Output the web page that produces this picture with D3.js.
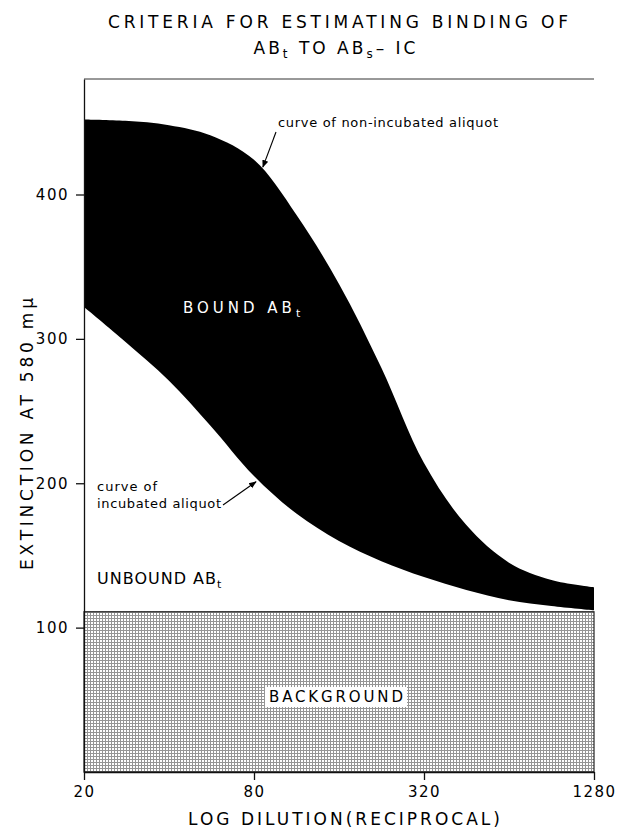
<!DOCTYPE html>
<html>
<head>
<meta charset="utf-8">
<script src="https://cdn.jsdelivr.net/npm/d3@7"></script>
<style>
  body { margin: 0; background: #fff; }
  text { font-family: "DejaVu Sans", sans-serif; fill: #000; }
</style>
</head>
<body>
<div id="main"></div>
<script>
// dilution grid (reciprocal), half-doubling steps
const dilutions = [20, 28, 40, 56, 80, 113, 160, 226, 320, 452, 640, 905, 1280];
// extinction of the non-incubated aliquot (upper curve)
const nonIncubated = [452, 451, 448, 441, 424, 386, 338, 280, 214, 171, 145, 133, 128];
// extinction of the incubated aliquot (lower curve)
const incubated = [322, 298, 271, 240, 205, 179, 160, 146, 135, 126, 119, 115, 112];
const backgroundLevel = 111;
const xTicks = [20, 80, 320, 1280];
const yTicks = [100, 200, 300, 400];

const ctx = {
    w: 621,
    h: 832,
    left: 84,
    right: 594,
    top: 79,
    bottom: 772,
};

const svg = d3.select("#main").append("svg")
    .attr("width", ctx.w)
    .attr("height", ctx.h);

const x = d3.scaleLog().domain([20, 1280]).range([ctx.left, ctx.right]);
const y = d3.scaleLinear().domain([0, 480]).range([ctx.bottom, ctx.top]);

const defs = svg.append("defs");
// stippled grey for the background band
const pat = defs.append("pattern")
    .attr("id", "stipple")
    .attr("patternUnits", "userSpaceOnUse")
    .attr("width", 3).attr("height", 3);
pat.append("rect").attr("width", 3).attr("height", 3).attr("fill", "#fff");
pat.append("rect").attr("width", 3).attr("height", 1).attr("fill", "#959595");
pat.append("rect").attr("width", 1).attr("height", 3).attr("fill", "#959595");

defs.append("marker")
    .attr("id", "arrow")
    .attr("viewBox", "0 0 10 10")
    .attr("refX", 9).attr("refY", 5)
    .attr("markerWidth", 7).attr("markerHeight", 7)
    .attr("orient", "auto")
    .append("path")
    .attr("d", "M0,1 L10,5 L0,9 z")
    .attr("fill", "#000");

const data = dilutions.map((d, i) => ({ d: d, up: nonIncubated[i], lo: incubated[i] }));

// background band
svg.append("rect")
    .attr("x", x(20))
    .attr("y", y(backgroundLevel))
    .attr("width", x(1280) - x(20))
    .attr("height", y(0) - y(backgroundLevel))
    .attr("fill", "url(#stipple)")
    .attr("stroke", "#222")
    .attr("stroke-width", 1.2);

// bound region between the two curves
const area = d3.area()
    .x(d => x(d.d))
    .y0(d => y(d.lo))
    .y1(d => y(d.up))
    .curve(d3.curveCatmullRom.alpha(0.5));
svg.append("path")
    .datum(data)
    .attr("d", area)
    .attr("fill", "#000");

// top frame line
svg.append("line")
    .attr("x1", ctx.left).attr("x2", ctx.right)
    .attr("y1", ctx.top).attr("y2", ctx.top)
    .attr("stroke", "#333").attr("stroke-width", 1);

// axes
const yAxis = svg.append("g")
    .attr("transform", `translate(${ctx.left},0)`)
    .call(d3.axisLeft(y).tickValues(yTicks).tickSize(8).tickSizeOuter(0).tickPadding(8));
const xAxis = svg.append("g")
    .attr("transform", `translate(0,${ctx.bottom})`)
    .call(d3.axisBottom(x).tickValues(xTicks).tickFormat(d3.format("d"))
        .tickSize(8).tickSizeOuter(0).tickPadding(6));
[yAxis, xAxis].forEach(g => {
    g.selectAll("text").attr("font-size", 15).attr("letter-spacing", 1.5)
        .attr("font-family", "DejaVu Sans");
    g.selectAll("line, path").attr("stroke", "#111").attr("stroke-width", 1.3);
});
yAxis.selectAll(".tick text").attr("dx", 1);

// titles
svg.append("text")
    .attr("x", 108).attr("y", 28)
    .attr("font-size", 17)
    .attr("textLength", 460).attr("lengthAdjust", "spacing")
    .text("CRITERIA FOR ESTIMATING BINDING OF");

const t2 = svg.append("text")
    .attr("x", 336).attr("y", 54)
    .attr("text-anchor", "middle")
    .attr("font-size", 17)
    .attr("letter-spacing", 3);
t2.append("tspan").text("AB");
t2.append("tspan").attr("font-size", 12).attr("dy", 4).text("t");
t2.append("tspan").attr("dy", -4).text(" TO  AB");
t2.append("tspan").attr("font-size", 12).attr("dy", 4).text("s");
t2.append("tspan").attr("dy", -4).text("– IC");

svg.append("text")
    .attr("transform", "translate(33,570) rotate(-90)")
    .attr("font-size", 17)
    .attr("textLength", 272).attr("lengthAdjust", "spacing")
    .text("EXTINCTION AT 580 mμ");

svg.append("text")
    .attr("x", 188).attr("y", 825)
    .attr("font-size", 17)
    .attr("textLength", 312).attr("lengthAdjust", "spacing")
    .text("LOG DILUTION(RECIPROCAL)");

// region labels
const bound = svg.append("text")
    .attr("x", 183).attr("y", 313)
    .attr("font-size", 15)
    .attr("letter-spacing", 4)
    .style("fill", "#fff");
bound.append("tspan").text("BOUND  AB");
bound.append("tspan").attr("font-size", 11).attr("dy", 4).text("t");

const unbound = svg.append("text")
    .attr("x", 97).attr("y", 584)
    .attr("font-size", 16)
    .attr("letter-spacing", 1);
unbound.append("tspan").text("UNBOUND  AB");
unbound.append("tspan").attr("font-size", 11).attr("dy", 4).text("t");

// background label on a white patch
const bgText = svg.append("text")
    .attr("x", 269).attr("y", 702)
    .attr("font-size", 15)
    .attr("textLength", 134).attr("lengthAdjust", "spacing")
    .text("BACKGROUND");
const bb = bgText.node().getBBox();
svg.insert("rect", () => bgText.node())
    .attr("x", bb.x - 4).attr("y", bb.y - 1)
    .attr("width", bb.width + 8).attr("height", bb.height + 2)
    .attr("fill", "#fff");

// annotations
svg.append("text")
    .attr("x", 278).attr("y", 127)
    .attr("font-size", 13)
    .attr("textLength", 220).attr("lengthAdjust", "spacing")
    .text("curve of non-incubated aliquot");
svg.append("line")
    .attr("x1", 276).attr("y1", 132)
    .attr("x2", x(86)).attr("y2", y(419))
    .attr("stroke", "#000").attr("stroke-width", 1.1)
    .attr("marker-end", "url(#arrow)");

svg.append("text")
    .attr("x", 97).attr("y", 491)
    .attr("font-size", 13)
    .attr("letter-spacing", 1)
    .text("curve of");
svg.append("text")
    .attr("x", 97).attr("y", 508)
    .attr("font-size", 13)
    .attr("textLength", 124).attr("lengthAdjust", "spacing")
    .text("incubated aliquot");
svg.append("line")
    .attr("x1", 223).attr("y1", 505)
    .attr("x2", x(80) + 2).attr("y2", y(201))
    .attr("stroke", "#000").attr("stroke-width", 1.1)
    .attr("marker-end", "url(#arrow)");
</script>
</body>
</html>
